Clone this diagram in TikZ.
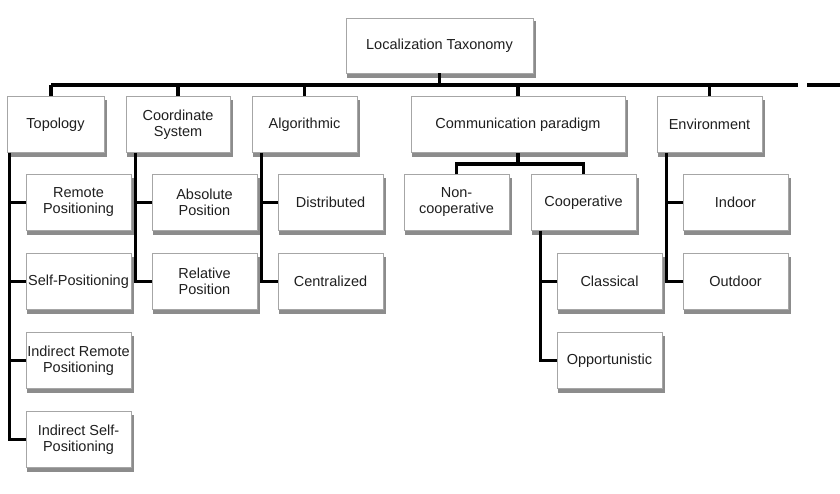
\documentclass[tikz,border=0pt]{standalone}
\usepackage{fontspec}
\setmainfont{Liberation Sans}
\usepackage{xcolor}
\usepackage{tikz}
\usetikzlibrary{calc}
\usetikzlibrary{positioning}

\definecolor{boxline}{HTML}{A6A6A6}
\definecolor{boxtext}{HTML}{1F1F1F}
\definecolor{boxshadow}{HTML}{8C8C8C}

\begin{document}
\begin{tikzpicture}[x=1pt,y=-1pt,
                    tree line/.style={line width=3.2pt,black},
                    main node/.style={rectangle,draw=boxline,line width=0.9pt,fill=white,
                      text=boxtext,align=center,inner sep=1pt,
                      minimum width=105pt,minimum height=56pt,
                      font=\fontsize{14.5}{16}\selectfont,
                      preaction={draw=boxshadow,fill=boxshadow,line width=1.5pt,
                        transform canvas={xshift=2pt,yshift=-4pt}}}]

 \useasboundingbox (0,0) rectangle (840,494);

 \coordinate (busL) at (51,85);
 \coordinate (busR) at (798,85);
 \coordinate (busE) at (840,85);
 \coordinate (cbus) at (518,164);

 \node[main node,minimum width=187pt,minimum height=55pt] (root) at (439.5,45.5) {Localization Taxonomy};

 % first level
 \node[main node,minimum width=97pt] (topo) at (55.5,124.5) {Topology};
 \node[main node,minimum width=104pt] (coord) at (178,124.5) {Coordinate\\System};
 \node[main node] (algo) at (304.5,124.5) {Algorithmic};
 \node[main node,minimum width=214pt] (comm) at (518,124.5) {Communication paradigm};
 \node[main node] (env) at (709.5,124.5) {Environment};

 % topology
 \node[main node] (rp) at (78.5,202.5) {Remote\\Positioning};
 \node[main node] (sp) at (78.5,281.5) {Self-Positioning};
 \node[main node] (irp) at (78.5,360.5) {Indirect Remote\\Positioning};
 \node[main node] (isp) at (78.5,439.5) {Indirect Self-\\Positioning};

 % coordinate system
 \node[main node] (abs) at (204.5,202.5) {Absolute\\Position};
 \node[main node] (rel) at (204.5,281.5) {Relative\\Position};

 % algorithmic
 \node[main node] (dist) at (330.5,202.5) {Distributed};
 \node[main node] (cent) at (330.5,281.5) {Centralized};

 % communication paradigm
 \node[main node] (noncoop) at (456.5,202.5) {Non-\\cooperative};
 \node[main node] (coop) at (583.5,202.5) {Cooperative};
 \node[main node] (class) at (609.5,281.5) {Classical};
 \node[main node] (opp) at (609.5,360.5) {Opportunistic};

 % environment
 \node[main node] (indoor) at (735.5,202.5) {Indoor};
 \node[main node] (outdoor) at (735.5,281.5) {Outdoor};

 \draw[tree line] (busL) -- (busR);
 \draw[tree line] ([xshift=9pt]busR) -- (busE);
 \draw[tree line] (root.south) -- (root.south |- busL);
 \draw[tree line] (busL) -- (topo.north -| busL);
 \foreach \n in {coord,algo,comm,env}
   \draw[tree line] (\n.north) -- (\n.north |- busL);

 \foreach \n in {rp,sp,irp,isp}
   \draw[tree line] ([xshift=3pt]topo.south west) |- (\n.west);
 \foreach \n in {abs,rel}
   \draw[tree line] ([xshift=10pt]coord.south west) |- (\n.west);
 \foreach \n in {dist,cent}
   \draw[tree line] ([xshift=10pt]algo.south west) |- (\n.west);
 \foreach \n in {indoor,outdoor}
   \draw[tree line] ([xshift=10pt]env.south west) |- (\n.west);
 \foreach \n in {class,opp}
   \draw[tree line] ([xshift=10pt]coop.south west) |- (\n.west);

 \draw[tree line] (comm.south) -- (cbus);
 \draw[tree line] (noncoop.north) |- (cbus) -| (coop.north);

\end{tikzpicture}
\end{document}
